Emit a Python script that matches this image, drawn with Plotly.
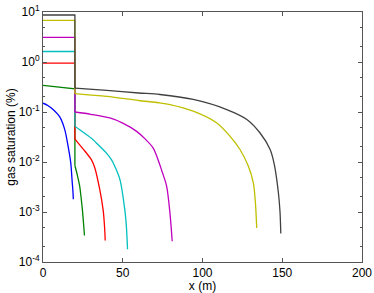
import plotly.graph_objects as go

# Data (x in m, gas saturation in %)
x_blue = [0, 3, 6.3, 10.5, 13.6, 15.7, 17.4, 18.3, 18.8, 19.0]
y_blue = [0.150, 0.135, 0.112, 0.080, 0.045, 0.021, 0.0096, 0.004, 0.0025, 0.0018]

x_green = [0, 20, 20, 21.5, 23, 24, 24.7, 25.4, 26]
y_green = [0.34, 0.29, 0.0085, 0.0055, 0.0033, 0.0018, 0.0011, 0.0006, 0.00034]

x_red = [0, 20, 20, 23, 26.2, 30.4, 32.5, 35.6, 37.7, 38.6, 39]
y_red = [0.95, 0.95, 0.029, 0.022, 0.0166, 0.011, 0.0076, 0.0028, 0.0011, 0.0005, 0.00027]

x_cyan = [0, 20, 20, 25, 31.4, 36, 39.8, 43, 45, 48.2, 51.3, 52.3, 53]
y_cyan = [1.62, 1.62, 0.052, 0.04, 0.028, 0.020, 0.015, 0.011, 0.0082, 0.0045, 0.0011, 0.0005, 0.00018]

x_magenta = [0, 20, 20, 30, 41.9, 50, 58.7, 64, 69.1, 72.2, 74.4, 77.5, 79.6, 81]
y_magenta = [3.1, 3.1, 0.10, 0.09, 0.076, 0.06, 0.041, 0.029, 0.019, 0.011, 0.0068, 0.0033, 0.00095, 0.00026]

x_yellow = [0, 20, 20, 40, 60, 73.3, 79.6, 94.2, 108.8, 117.2, 123.5, 128.7, 131.9, 133.2, 134]
y_yellow = [6.8, 6.8, 0.234, 0.205, 0.17, 0.152, 0.141, 0.104, 0.061, 0.033, 0.0178, 0.0083, 0.0038, 0.0015, 0.00048]

x_black = [0, 20, 20, 40, 60, 73.3, 94.2, 115.2, 127.8, 136.1, 142.4, 145, 147.6, 148.6, 149.1]
y_black = [8.7, 8.7, 0.30, 0.27, 0.24, 0.224, 0.178, 0.112, 0.071, 0.038, 0.0178, 0.009, 0.0024, 0.001, 0.00037]

x_ticks = [0, 50, 100, 150, 200]
y_tickvals = [1e-4, 1e-3, 1e-2, 1e-1, 1, 10]
y_ticktext = ["10<sup>-4</sup>", "10<sup>-3</sup>", "10<sup>-2</sup>", "10<sup>-1</sup>", "10<sup>0</sup>", "10<sup>1</sup>"]

series = [
    (x_blue, y_blue, "#0000ff"),
    (x_green, y_green, "#008000"),
    (x_red, y_red, "#ff0000"),
    (x_cyan, y_cyan, "#00bfbf"),
    (x_magenta, y_magenta, "#bf00bf"),
    (x_yellow, y_yellow, "#bfbf00"),
    (x_black, y_black, "#404040"),
]

fig = go.Figure()
for xs, ys, c in series:
    # split: step part (linear) and decaying tail (smoothed)
    if xs.count(20) == 2:
        k = len(xs) - 1 - xs[::-1].index(20)  # index of second x=20 point
        fig.add_trace(go.Scatter(x=xs[:k + 1], y=ys[:k + 1], mode="lines",
                                 line=dict(color=c, width=1.3), showlegend=False, hoverinfo="skip"))
        fig.add_trace(go.Scatter(x=xs[k:], y=ys[k:], mode="lines",
                                 line=dict(color=c, width=1.3, shape="spline", smoothing=0.8),
                                 showlegend=False, hoverinfo="skip"))
    else:
        fig.add_trace(go.Scatter(x=xs, y=ys, mode="lines",
                                 line=dict(color=c, width=1.3, shape="spline", smoothing=0.8),
                                 showlegend=False, hoverinfo="skip"))

axis_color = "#555555"
fig.update_layout(
    width=374, height=293,
    margin=dict(l=43, r=12, t=12, b=31),
    paper_bgcolor="white", plot_bgcolor="white",
    font=dict(family="Liberation Sans, Arial, sans-serif", size=12, color="black"),
    xaxis=dict(range=[0, 200], tickvals=x_ticks, ticks="inside", ticklen=4,
               showline=True, linecolor=axis_color, linewidth=1, mirror="ticks",
               tickcolor=axis_color, showgrid=False, zeroline=False, automargin=False,
               tickfont=dict(size=12),
               title=dict(text="x (m)", standoff=0, font=dict(size=12))),
    yaxis=dict(type="log", range=[-4, 1], tickvals=y_tickvals, ticktext=y_ticktext,
               ticks="inside", ticklen=4, showline=True, linecolor=axis_color, linewidth=1,
               mirror="ticks", tickcolor=axis_color, showgrid=False, zeroline=False,
               automargin=False, tickfont=dict(size=12),
               minor=dict(ticks="inside", ticklen=2, tickcolor=axis_color, showgrid=False),
               title=dict(text="gas saturation (%)", standoff=0, font=dict(size=12))),
)

fig.write_html("out.html", config={"displayModeBar": False},
               post_script="document.body.style.margin='0';document.body.style.padding='0';")
